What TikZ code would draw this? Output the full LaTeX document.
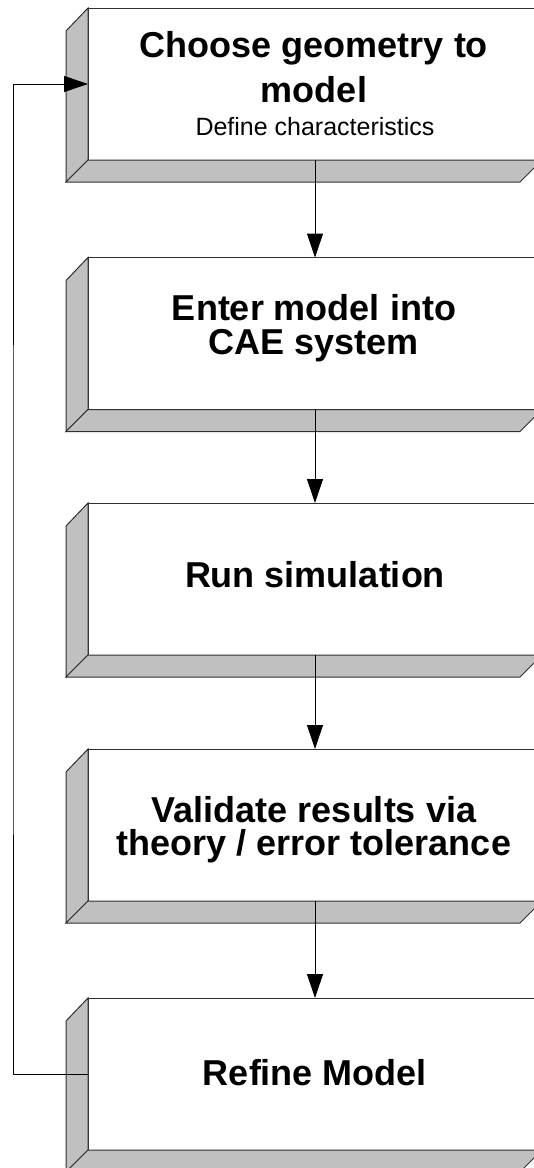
\documentclass[tikz,border=0pt]{standalone}
\usepackage{fontspec}
\setmainfont{Liberation Sans}
\usetikzlibrary{arrows.meta,calc}
\definecolor{bevelgrey}{HTML}{C0C0C0}
\definecolor{edgegrey}{HTML}{303030}
\tikzset{
  face/.style={draw=edgegrey, fill=white, line width=1pt, inner sep=0pt, outer sep=0pt,
    minimum width=454pt, minimum height=152pt},
  bevel/.style={draw=edgegrey, fill=bevelgrey, line width=1pt, line join=miter},
  title/.style={font=\fontsize{36}{36}\selectfont\bfseries, anchor=base, inner sep=0pt},
  subtitle/.style={font=\fontsize{25}{25}\selectfont, anchor=base, inner sep=0pt},
  conn/.style={draw=black, line width=1pt, -{Triangle[length=24pt,width=16pt]}},
}
\newcommand{\threedbox}[3]{%
  \node[face] (#1) at (315,#2) {};
  \draw[bevel] (#1.north west) -- ++(-22,23) -- ($(#1.south west)+(-22,22)$) -- (#1.south west) -- cycle;
  \draw[bevel] (#1.south west) -- (#1.south east) -- ++(-22,22) -- ($(#1.south west)+(-22,22)$) -- cycle;
}
\begin{document}
\begin{tikzpicture}[x=1pt,y=-1pt]
\useasboundingbox (0,0) rectangle (534,1168);
\clip (0,0) rectangle (534,1168);
\fill[white] (0,0) rectangle (534,1168);

\threedbox{b1}{84}{}
\threedbox{b2}{333.5}{}
\threedbox{b3}{579}{}
\threedbox{b4}{825}{}
\threedbox{b5}{1074}{}

\node[title] (t1a) at (314,57) {Choose geometry to};
\node[title] (t1b) at (314,102) {model};
\node[subtitle] (t1c) at (315,135) {Define characteristics};

\node[title] (t2a) at (314,320) {Enter model into};
\node[title] (t2b) at (314,354) {CAE system};

\node[title] (t3a) at (315,587) {Run simulation};

\node[title] (t4a) at (314,822) {Validate results via};
\node[title] (t4b) at (314,855) {theory / error tolerance};

\node[title] (t5a) at (315,1085) {Refine Model};

\draw[conn] (b1.south) -- (b2.north);
\draw[conn] (b2.south) -- (b3.north);
\draw[conn] (b3.south) -- (b4.north);
\draw[conn] (b4.south) -- (b5.north);

\coordinate (lp) at (13,600);
\draw[conn] (b5.west) -| (lp) |- (b1.west);
\end{tikzpicture}
\end{document}
